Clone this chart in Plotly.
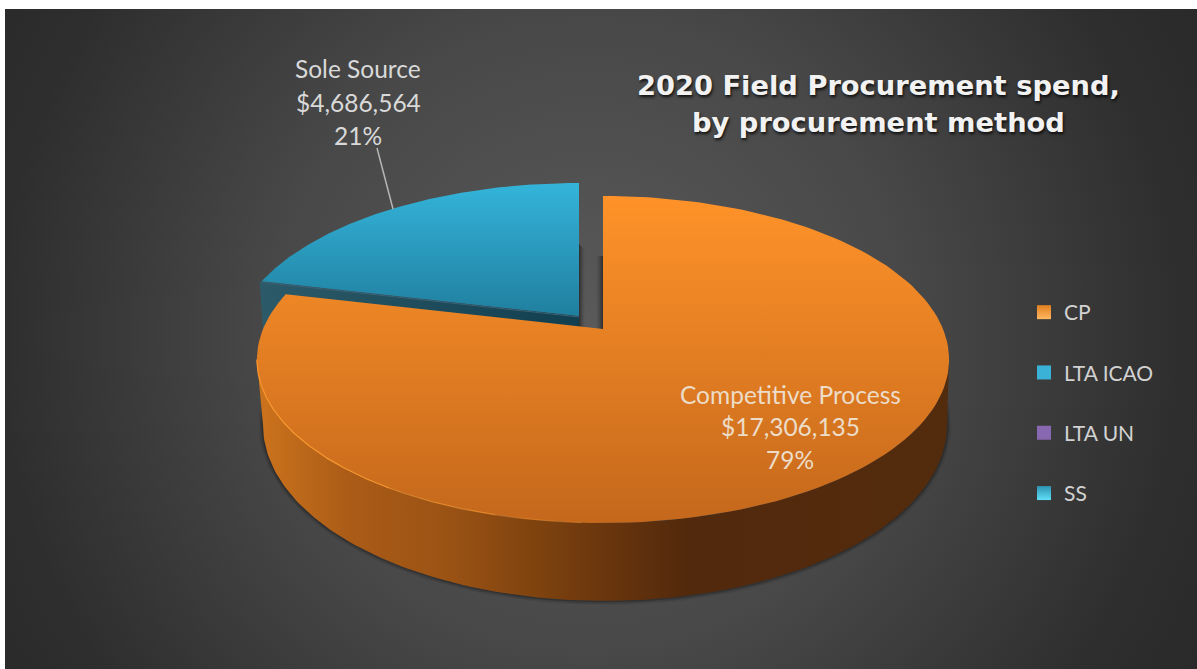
import numpy as np
import plotly.graph_objects as go

categories = ["CP", "LTA ICAO", "LTA UN", "SS"]
values = [17306135, 0, 0, 4686564]
slice_labels = {"CP": "Competitive Process", "SS": "Sole Source"}
legend_colors = ["#e07f20", "#3ab2d8", "#8868b0", "#2e93b3"]
legend_grad = ["#ffb860", "#3ab2d8", "#8868b0", "#5fe0f8"]
title_lines = ["2020 Field Procurement spend,", "by procurement method"]

W, H, L, T = 1197, 669, 5, 9
K = 0.1866
FONT = "Lato"


def proj(theta_deg, ax, ay, a, b):
    t = np.radians(theta_deg)
    d = 1 + K * np.cos(t)
    return ax + a * np.sin(t) / d, ay - b * np.cos(t) / d


def arc(t0, t1, ax, ay, a, b, n=160):
    return proj(np.linspace(t0, t1, n), ax, ay, a, b)


TOP = dict(ax=603, ay=329, a=340, b=157.8)
BOT = dict(ax=605, ay=392, a=336, b=169.9)
BLUE = dict(ax=579, ay=316, a=340, b=157.8)

total = sum(values)
end_cp = 360 * values[0] / total
left_t = 360 - np.degrees(np.arccos(-K))
right_t = np.degrees(np.arccos(-K))

fig = go.Figure()


def poly(x, y, **kw):
    fig.add_trace(go.Scatter(x=list(x), y=list(y), mode="lines", fill="toself",
                             line=dict(width=0), hoverinfo="skip", showlegend=False, **kw))


def grad(kind, start, stop, stops):
    n = len(stops) - 1
    return dict(type=kind, start=start, stop=stop,
                colorscale=[[i / n if not isinstance(s, tuple) else s[0],
                             s if not isinstance(s, tuple) else s[1]] for i, s in enumerate(stops)])


# background radial glow
R = 760
cx, cy = 590, 335
fig.add_trace(go.Scatter(x=[cx - R, cx + R, cx + R, cx - R, cx - R],
                         y=[cy - R, cy - R, cy + R, cy + R, cy - R],
                         mode="lines", fill="toself", line=dict(width=0), hoverinfo="skip", showlegend=False,
                         fillgradient=dict(type="radial", colorscale=[[0, "#5a5a5a"], [0.42, "#484848"], [0.78, "#2e2e2e"], [1, "#272727"]])))

# soft shadow under the pie
bx, by = arc(right_t - 12, left_t + 12, **BOT)
for w, alpha in [(9, 0.06), (6, 0.10), (3, 0.18)]:
    fig.add_trace(go.Scatter(x=bx, y=by, mode="lines", line=dict(color=f"rgba(0,0,0,{alpha})", width=w),
                             hoverinfo="skip", showlegend=False))

# blue slice: wall, then top
ex, ey = proj(end_cp, **BLUE)
poly([ex - 2, BLUE["ax"], BLUE["ax"], ex + 2, ex - 2], [ey, BLUE["ay"], BLUE["ay"] + 62, ey + 60, ey],
     fillgradient=grad("horizontal", 260, 579, ["#2c5a68", "#123f50"]))
tx, ty = arc(end_cp, 360, **BLUE)
poly(np.r_[BLUE["ax"], tx, BLUE["ax"]], np.r_[BLUE["ay"], ty, BLUE["ay"]],
     fillgradient=grad("vertical", 183, 316, ["#34b4da", "#207f9f"]))
fig.add_trace(go.Scatter(x=[ex, BLUE["ax"]], y=[ey + 1, BLUE["ay"] + 1], mode="lines",
                         line=dict(color="#3d6175", width=1), hoverinfo="skip", showlegend=False))

# shadows in the gap between the slices
poly([579, 585, 585, 579, 579], [244, 250, 327, 327, 244],
     fillgradient=grad("horizontal", 579, 585, ["rgba(30,30,30,0.75)", "rgba(60,60,60,0)"]))
poly([596, 603, 603, 596, 596], [256, 256, 329, 329, 256],
     fillgradient=grad("horizontal", 596, 603, ["rgba(60,60,60,0)", "rgba(30,30,30,0.75)"]))

# orange slice: outer wall, then top
ux, uy = arc(right_t, left_t, **TOP)
lx, ly = arc(left_t, right_t, **BOT)
poly(np.r_[ux, lx, ux[0]], np.r_[uy, ly, uy[0]],
     fillgradient=grad("horizontal", 258, 950,
                       [(0, "#cc731c"), (0.13, "#ab5c17"), (0.28, "#9a5214"), (0.4, "#7f430f"),
                        (0.5, "#6a360d"), (0.62, "#52290c"), (1, "#532b0d")]))
ox, oy = arc(0, end_cp, **TOP)
poly(np.r_[TOP["ax"], ox, TOP["ax"]], np.r_[TOP["ay"], oy, TOP["ay"]],
     fillgradient=grad("vertical", 195, 522, ["#ff9329", "#c5681c"]))
for t0, t1, alpha in [(183, 195, 0.35), (195, 212, 0.65), (212, left_t, 1.0)]:
    rx, ry = arc(t0, t1, **TOP)
    fig.add_trace(go.Scatter(x=rx, y=ry, mode="lines", line=dict(color=f"rgba(248,152,47,{alpha})", width=1.2),
                             hoverinfo="skip", showlegend=False))

# legend
for name, col, gc in zip(categories, legend_colors, legend_grad):
    fig.add_trace(go.Scatter(x=[None], y=[None], mode="markers", name=name, legendgroup=name,
                             marker=dict(symbol="square", size=14, color=col,
                                         gradient=dict(type="vertical", color=gc))))

# leader line
fig.add_trace(go.Scatter(x=[393, 377], y=[209, 148], mode="lines", line=dict(color="#b5b5b5", width=1.5),
                         hoverinfo="skip", showlegend=False))


def note(x, y, text, size=24.5, color="#d9d9d9", **kw):
    fig.add_annotation(x=x, y=y, xref="x", yref="y", text=text, showarrow=False, xanchor="center", yanchor="middle",
                       font=dict(family=FONT, size=size, color=color, **kw))


def slice_lines(name, val):
    return [slice_labels[name], f"${val:,}", f"{round(100 * val / total)}%"]


for yy, s in zip([394, 426, 459], slice_lines("CP", values[0])):
    note(790, yy, s, color="#ecdcc8")
for yy, s in zip([68, 102, 135], slice_lines("SS", values[3])):
    note(358, yy, s)

for yy, s in zip([85, 122], title_lines):
    fig.add_annotation(x=878, y=yy, xref="x", yref="y", text=f"<b>{s}</b>", showarrow=False,
                       font=dict(family="DejaVu Sans", size=27.3, color="#f2f2f2",
                                 shadow="1px 2px 3px rgba(0,0,0,0.8)"))

fig.update_layout(
    width=W, height=H, margin=dict(l=L, r=0, t=T, b=0), paper_bgcolor="white", plot_bgcolor="#3a3a3a",
    xaxis=dict(range=[L, W], visible=False, fixedrange=True),
    yaxis=dict(range=[H, T], visible=False, fixedrange=True),
    legend=dict(x=(1024 - L) / (W - L), xanchor="left", y=(H - 292) / (H - T), yanchor="top",
                tracegroupgap=30, bgcolor="rgba(0,0,0,0)", font=dict(family=FONT, size=21, color="#d2d2d2"),
                itemclick=False, itemdoubleclick=False),
    showlegend=True,
)
fig.write_html("out.html", config={"displayModeBar": False},
               post_script="document.body.style.margin='0';document.body.style.overflow='hidden';")
